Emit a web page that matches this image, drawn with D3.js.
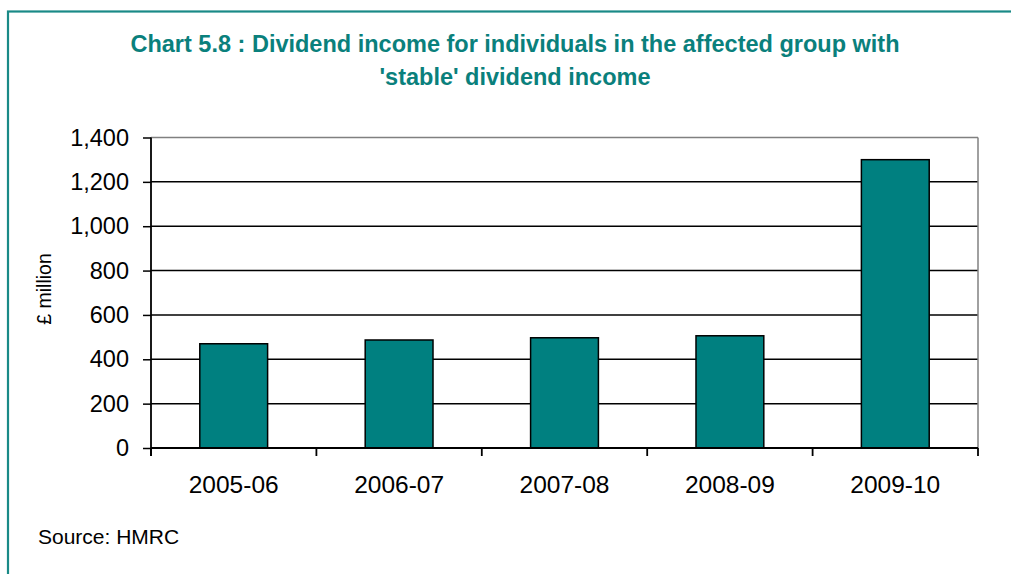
<!DOCTYPE html>
<html><head><meta charset="utf-8">
<script src="https://cdnjs.cloudflare.com/ajax/libs/d3/7.8.5/d3.min.js"></script>
<style>
html,body{margin:0;padding:0;background:#fff;}
svg{display:block;font-family:"Liberation Sans",Arial,sans-serif;}
</style></head>
<body>
<svg id="chart" width="1011" height="574"></svg>
<script>
const categories = ["2005-06","2006-07","2007-08","2008-09","2009-10"];
const values = [470, 487, 497, 506, 1300];
const yTicks = [0,200,400,600,800,1000,1200,1400];
const titleLines = ["Chart 5.8 : Dividend income for individuals in the affected group with","'stable' dividend income"];
const yLabel = "£ million";
const sourceText = "Source: HMRC";

(function(){
const svg = d3.select("#chart");
const teal = "#008080";
const pL = 151, pR = 978, pT = 137.5, pB = 448;

// outer frame
svg.append("rect").attr("x",8).attr("y",11.5).attr("width",1100).attr("height",700)
  .attr("fill","none").attr("stroke","#1a8a87").attr("stroke-width",2.2);

// title
svg.append("g").selectAll("text").data(titleLines).join("text")
  .attr("x",515).attr("y",(d,i)=>52+i*33)
  .attr("text-anchor","middle").attr("fill","#0a807c")
  .style("font-weight","bold").style("font-size","23.5px")
  .text(d=>d);

const x = d3.scaleBand().domain(categories).range([pL,pR]).paddingInner(0.59).paddingOuter(0.295);
const xb = d3.scaleBand().domain(categories).range([pL,pR]);
const y = d3.scaleLinear().domain([0,1400]).range([pB,pT]);

// gridlines
svg.append("g").selectAll("line").data(yTicks.filter(t=>t>0 && t<1400)).join("line")
  .attr("x1",pL).attr("x2",pR).attr("y1",d=>y(d)).attr("y2",d=>y(d))
  .attr("stroke","#000").attr("stroke-width",1.5);
// plot border top/right gray
svg.append("line").attr("x1",pL).attr("x2",pR).attr("y1",y(1400)).attr("y2",y(1400)).attr("stroke","#808080").attr("stroke-width",1.5);
svg.append("line").attr("x1",pR).attr("x2",pR).attr("y1",y(1400)).attr("y2",pB).attr("stroke","#808080").attr("stroke-width",1.5);

// bars
svg.append("g").selectAll("rect").data(values).join("rect")
  .attr("x",(d,i)=>x(categories[i])).attr("width",x.bandwidth())
  .attr("y",d=>y(d)).attr("height",d=>pB-y(d))
  .attr("fill",teal).attr("stroke","#000").attr("stroke-width",1.5);

// y axis
const yAxis = d3.axisLeft(y).tickValues(yTicks).tickSize(8).tickPadding(14).tickFormat(d3.format(","));
const gy = svg.append("g").attr("transform",`translate(${pL},0)`).call(yAxis);
gy.select(".domain").attr("stroke","#000").attr("stroke-width",1.8).attr("d",`M0,${pT}V${pB+8}`);
gy.selectAll(".tick line").attr("stroke","#000").attr("stroke-width",1.5);
gy.selectAll(".tick text").style("font-size","23.5px").attr("fill","#000").attr("font-family","Liberation Sans, Arial, sans-serif");

// x axis
const gx = svg.append("g").attr("transform",`translate(0,${pB})`);
gx.append("line").attr("x1",pL).attr("x2",pR).attr("y1",0).attr("y2",0).attr("stroke","#000").attr("stroke-width",1.8);
const bounds = categories.map(c=>xb(c)).concat([pR]);
gx.selectAll("line.t").data(bounds).join("line").attr("class","t")
  .attr("x1",d=>d).attr("x2",d=>d).attr("y1",0).attr("y2",8).attr("stroke","#000").attr("stroke-width",1.8);
gx.selectAll("text").data(categories).join("text")
  .attr("x",d=>xb(d)+xb.bandwidth()/2).attr("y",45)
  .attr("text-anchor","middle").style("font-size","24.5px").attr("fill","#000")
  .text(d=>d);

// y label
svg.append("text").attr("transform","translate(51,289) rotate(-90)")
  .attr("text-anchor","middle").style("font-size","19.5px").attr("fill","#000").text(yLabel);

// source
svg.append("text").attr("x",38).attr("y",544).style("font-size","21px").attr("fill","#000").text(sourceText);
})();
</script>
</body></html>
